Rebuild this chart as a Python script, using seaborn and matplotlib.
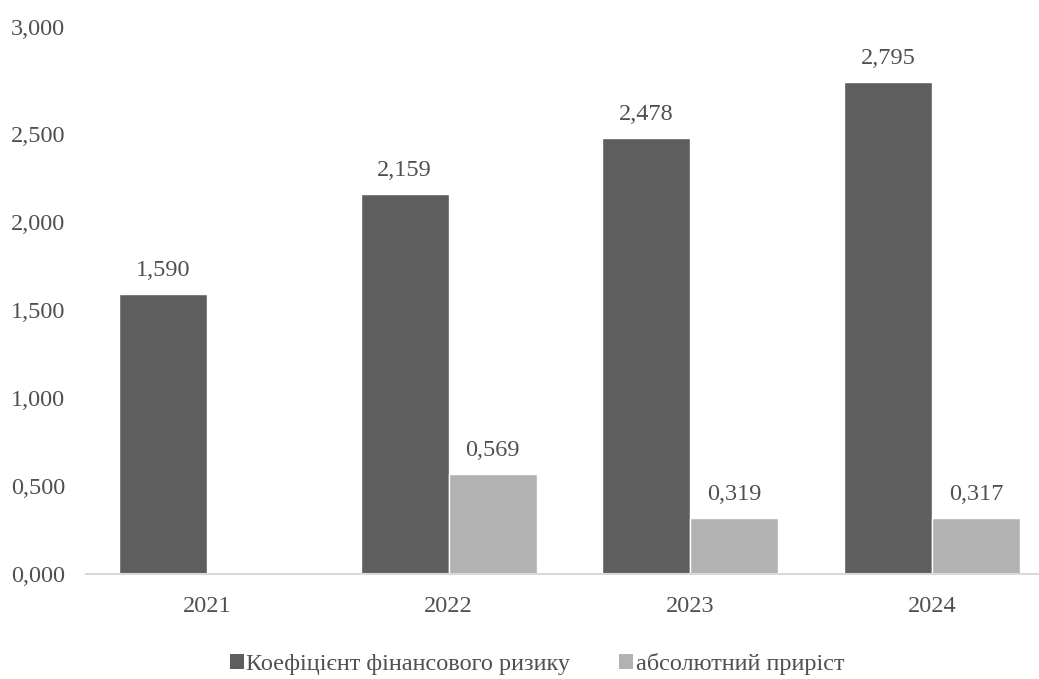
import matplotlib
matplotlib.use("Agg")
import matplotlib.pyplot as plt
import matplotlib.transforms as mtransforms
import seaborn as sns
import pandas as pd
import numpy as np
from matplotlib.patches import Patch

years = ["2021", "2022", "2023", "2024"]
coef = [1.590, 2.159, 2.478, 2.795]
growth = [np.nan, 0.569, 0.319, 0.317]
series_names = ["Коефіцієнт фінансового ризику", "абсолютний приріст"]
yticks = [0, 0.5, 1.0, 1.5, 2.0, 2.5, 3.0]

colors = ["#5e5e5e", "#b2b2b2"]
text_color = "#505050"
FAM = ["Liberation Serif", "DejaVu Serif"]
FS = 17.5

sns.set_theme(style="white")
plt.rcParams["font.family"] = FAM

df = pd.DataFrame({
    "year": years * 2,
    "value": coef + growth,
    "series": [series_names[0]] * 4 + [series_names[1]] * 4,
})

fig = plt.figure(figsize=(10.39, 6.79), dpi=100)
ax = fig.add_axes([86 / 1039, (679 - 574) / 679, (1053 - 86) / 1039, (574 - 46) / 679])

sns.barplot(data=df, x="year", y="value", hue="series", palette=colors,
            width=0.728, saturation=1, ax=ax, legend=False, errorbar=None)

ax.set_ylim(0, 3.0)
ax.set_yticks(yticks)
ax.set_yticklabels([f"{v:.3f}".replace(".", ",") for v in yticks],
                   fontsize=FS, color=text_color, family=FAM)
ax.tick_params(axis="y", length=0, pad=15)
ax.tick_params(axis="x", length=0, pad=16, labelsize=FS, labelcolor=text_color)
for lbl in ax.get_xticklabels():
    lbl.set_family(FAM)
# top tick label sits higher in the reference
top_lbl = ax.get_yticklabels()[-1]
top_lbl.set_transform(top_lbl.get_transform() +
                      mtransforms.ScaledTranslation(0, 19 / 100, fig.dpi_scale_trans))
ax.set_xlabel("")
ax.set_ylabel("")
for s in ["top", "right", "left"]:
    ax.spines[s].set_visible(False)
ax.spines["bottom"].set_color("#d9d9d9")
ax.spines["bottom"].set_linewidth(1.5)

for container in ax.containers:
    for bar in container:
        h = bar.get_height()
        if np.isnan(h) or h == 0:
            continue
        ax.annotate(f"{h:.3f}".replace(".", ","),
                    (bar.get_x() + bar.get_width() / 2, h),
                    xytext=(0, 17), textcoords="offset points",
                    ha="center", va="center", fontsize=FS, color=text_color, family=FAM)

handles = [Patch(facecolor=c, edgecolor="none") for c in colors]
fig.legend(handles, series_names, loc="center", bbox_to_anchor=(537 / 1039, 1 - 664 / 679),
           ncol=2, frameon=False, prop={"family": FAM, "size": FS},
           handlelength=0.58, handleheight=0.58,
           handletextpad=0.1, columnspacing=2.0, labelcolor=text_color)

fig.savefig("out.png", dpi=100)
